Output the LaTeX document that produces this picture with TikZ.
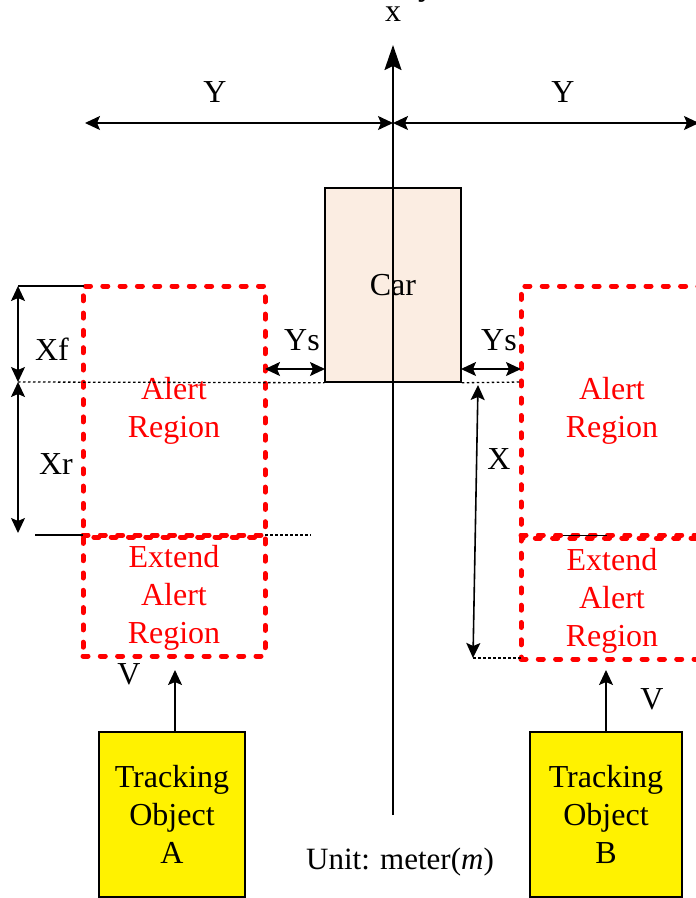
\documentclass[tikz,border=0pt]{standalone}
\usepackage{fontspec}
\setmainfont{Liberation Serif}
\usetikzlibrary{arrows.meta}
\definecolor{carfill}{RGB}{251,237,226}
\begin{document}
\begin{tikzpicture}[x=1pt,y=-1pt,
  lbl/.style={font=\fontsize{32}{38}\selectfont, inner sep=0pt},
  redtxt/.style={text=red, align=center, inner sep=0pt, font=\fontsize{32}{38}\selectfont},
  region/.style={draw=red, line width=5pt, dash pattern=on 5pt off 12.3pt, line cap=round, inner sep=0pt},
  dimarrow/.style={line width=1.6pt, {Stealth[length=15pt,width=14pt,inset=3pt]}-{Stealth[length=15pt,width=14pt,inset=3pt]}},
  uparrow/.style={line width=1.6pt, -{Stealth[length=15pt,width=14pt,inset=3pt]}},
  axisarrow/.style={line width=2pt, -{Stealth[length=25pt,width=17pt,inset=4pt]}},
  dotline/.style={dash pattern=on 2.5pt off 2.5pt, line width=1.3pt},
  trk/.style={draw, line width=1.5pt, fill=yellow, align=center, inner sep=0pt,
    font=\fontsize{32}{38}\selectfont}]
\useasboundingbox (0,0) rectangle (696,898);

% axis
\coordinate (axbot) at (393,815);
\coordinate (axtop) at (393,45);
\node[lbl] (xlab) at (393,14.5) {x};
\node[lbl, font=\bfseries\fontsize{32}{38}\selectfont, anchor=base west] (ycut) at (418,-5) {y};

% car
\node[draw, line width=1.5pt, fill=carfill, minimum width=136pt, minimum height=194pt, inner sep=0pt] (car) at (393,285) {};
\draw[axisarrow] (axbot) -- (axtop);
\node[lbl] (carlab) at (393,285) {Car};

% Y arrows
\coordinate (yl) at (85,123);
\coordinate (yc) at (393,123);
\coordinate (yr) at (699,123);
\draw[dimarrow] (yl) -- (yc);
\draw[dimarrow] (yc) -- (yr);
\node[lbl] (ylabl) at (215,92) {Y};
\node[lbl] (ylabr) at (563,92) {Y};

% left regions
\node[region, minimum width=182pt, minimum height=249pt] (alertL) at (174,410.5) {};
\node[region, minimum width=182pt, minimum height=119pt] (extL) at (174,596.5) {};
\node[redtxt] (alertLt) at (174,411) {Alert\\Region};
\node[redtxt] (extLt) at (174,598) {Extend\\Alert\\Region};

% right regions
\node[region, minimum width=200pt, minimum height=249pt] (alertR) at (621,410.5) {};
\node[region, minimum width=200pt, minimum height=121pt] (extR) at (621,598.5) {};
\node[redtxt] (alertRt) at (612,411) {Alert\\Region};
\node[redtxt] (extRt) at (612,601) {Extend\\Alert\\Region};
\coordinate (rs1) at (563,535.5);
\coordinate (rs2) at (607,535.5);
\draw[line width=1.2pt] (rs1) -- (rs2);

% left dimension Xf / Xr
\coordinate (xft) at (18,286);
\coordinate (xfm) at (18,382);
\coordinate (xrb) at (18,533);
\coordinate (topl) at (84,286);
\coordinate (botl0) at (35,535);
\coordinate (botl1) at (83,535);
\coordinate (botd0) at (265,535);
\coordinate (botd1) at (311,535);
\draw[line width=1.2pt] (xft) -- (topl);
\draw[line width=1.2pt] (botl0) -- (botl1);
\draw[dotline] (xfm) -- (car.south west);
\draw[dotline] (botd0) -- (botd1);
\draw[dimarrow] (xft) -- (xfm);
\draw[dimarrow] (xfm) -- (xrb);
\node[lbl] (xflab) at (52,349) {Xf};
\node[lbl] (xrlab) at (56,464) {Xr};

% Ys
\coordinate (ysl0) at (265,369);
\coordinate (ysl1) at (325,369);
\coordinate (ysr0) at (461,369);
\coordinate (ysr1) at (521,369);
\draw[dimarrow] (ysl0) -- (ysl1);
\draw[dimarrow] (ysr0) -- (ysr1);
\node[lbl] (yslab) at (302,340) {Ys};
\node[lbl] (ysrab) at (499,340) {Ys};

% right X
\coordinate (rd0) at (521,382);
\coordinate (xt) at (478,385);
\coordinate (xb) at (473,658);
\coordinate (xbd) at (521,658);
\draw[dotline] (car.south east) -- (rd0);
\draw[dotline] (xb) -- (xbd);
\draw[dimarrow] (xt) -- (xb);
\node[lbl] (xlabr) at (499,459) {X};

% tracking objects
\node[trk, minimum width=146pt, minimum height=165pt] (objA) at (172,814.5) {Tracking\\Object\\A};
\node[trk, minimum width=152pt, minimum height=165pt] (objB) at (606,814.5) {Tracking\\Object\\B};
\coordinate (vA) at (175,670);
\coordinate (vB) at (606,670);
\draw[uparrow] (objA.north -| vA) -- (vA);
\draw[uparrow] (objB.north -| vB) -- (vB);
\node[lbl] (vlabA) at (129,674) {V};
\node[lbl] (vlabB) at (652,699) {V};

\node[lbl, font=\fontsize{31}{36}\selectfont] (unit) at (400,862) {Unit: meter(\textit{m})};
\end{tikzpicture}
\end{document}
